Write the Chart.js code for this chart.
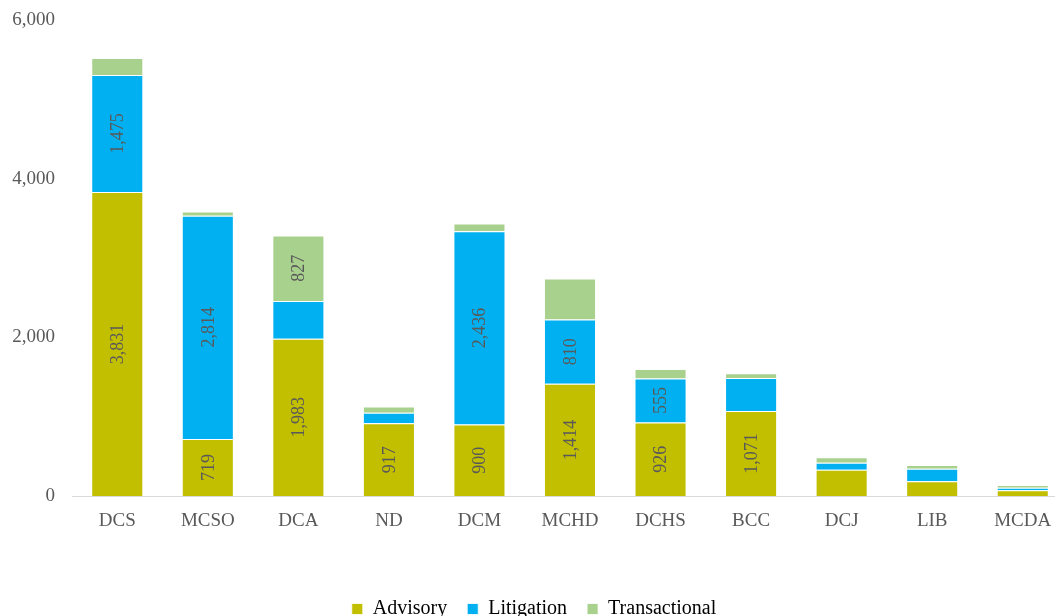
<!DOCTYPE html>
<html>
<head>
<meta charset="utf-8">
<script src="https://cdn.jsdelivr.net/npm/chart.js@4"></script>
<style>
  html, body { margin: 0; padding: 0; background: #fff; overflow: hidden; }
  #wrap { width: 1068px; height: 616px; }
</style>
</head>
<body>
<div id="wrap"><canvas id="chartvas"></canvas></div>
<script>
'use strict';

// categories and series
const categories = ['DCS', 'MCSO', 'DCA', 'ND', 'DCM', 'MCHD', 'DCHS', 'BCC', 'DCJ', 'LIB', 'MCDA'];
const advisory = [3831, 719, 1983, 917, 900, 1414, 926, 1071, 331, 185, 72];
const litigation = [1475, 2814, 474, 131, 2436, 810, 555, 417, 88, 158, 32];
const transactional = [216, 52, 827, 80, 100, 518, 120, 59, 71, 47, 34];
const yTicks = [0, 2000, 4000, 6000];

// only the bigger segments carry a label
const labelMin = 540;

const serif = "'Liberation Serif', 'Times New Roman', serif";
const grey = '#595959';

// ----- rotated value labels inside the segments -----
const segmentLabels = {
    id: 'segmentLabels',
    afterDatasetsDraw(chart) {
        const ctx = chart.ctx;
        ctx.save();
        ctx.font = '18px ' + serif;
        ctx.fillStyle = grey;
        ctx.textAlign = 'center';
        ctx.textBaseline = 'middle';
        chart.data.datasets.forEach((ds, i) => {
            const meta = chart.getDatasetMeta(i);
            meta.data.forEach((bar, j) => {
                const v = ds.data[j];
                if (v < labelMin) return;
                const y = (bar.y + bar.base) / 2;
                ctx.save();
                ctx.translate(bar.x, y);
                ctx.rotate(-Math.PI / 2);
                ctx.fillText(v.toLocaleString('en-US'), 0, 1);
                ctx.restore();
            });
        });
        ctx.restore();
    }
};

const data = {
    labels: categories,
    datasets: [
        { label: 'Advisory', data: advisory, backgroundColor: '#C2BE00' },
        { label: 'Litigation', data: litigation, backgroundColor: '#00B0F0' },
        { label: 'Transactional', data: transactional, backgroundColor: '#A9D18E' }
    ].map(ds => Object.assign(ds, {
        borderColor: 'rgba(255,255,255,0.8)',
        borderWidth: 1,
        barPercentage: 0.575,
        categoryPercentage: 1
    }))
};

new Chart(document.getElementById('chartvas'), {
    type: 'bar',
    data: data,
    plugins: [segmentLabels],
    options: {
        responsive: true,
        maintainAspectRatio: false,
        animation: false,
        layout: { padding: { top: 0, left: 0, right: 0, bottom: -13 } },
        plugins: {
            tooltip: { enabled: false },
            legend: {
                position: 'bottom',
                labels: {
                    font: { family: serif, size: 20 },
                    color: '#000',
                    boxWidth: 11,
                    boxHeight: 11,
                    padding: 20,
                    usePointStyle: true,
                    pointStyle: 'rect',
                    pointStyleWidth: 11
                }
            }
        },
        scales: {
            x: {
                stacked: true,
                grid: { display: false, drawTicks: false },
                border: { color: '#D9D9D9', width: 1 },
                ticks: { font: { family: serif, size: 19 }, color: grey, padding: 14 },
                afterFit: s => { s.height = 83; }
            },
            y: {
                stacked: true,
                min: 0,
                max: 6000,
                afterBuildTicks: s => { s.ticks = yTicks.map(v => ({ value: v })); },
                grid: { display: false, drawTicks: false },
                border: { display: false },
                ticks: {
                    font: { family: serif, size: 19 },
                    color: grey,
                    padding: 17,
                    callback: v => v.toLocaleString('en-US')
                },
                afterFit: s => { s.width = 72; s.paddingTop = 20; s.paddingBottom = 0; }
            }
        }
    }
});
</script>
</body>
</html>
